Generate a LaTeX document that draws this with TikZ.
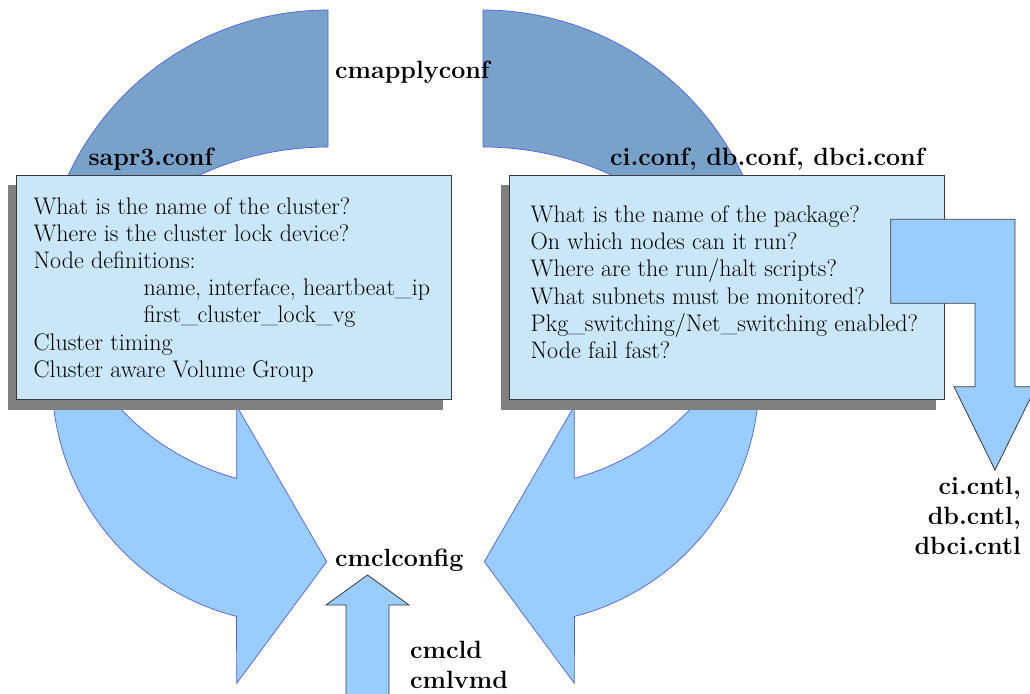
\documentclass[tikz,border=0pt]{standalone}
\begin{document}
\definecolor{topblue}{HTML}{78A2CA}
\definecolor{lowblue}{HTML}{99CCFF}
\definecolor{edgeblue}{HTML}{5060E0}
\definecolor{panelfill}{HTML}{C9E7F9}
\definecolor{darkedge}{HTML}{3A3A3A}
\definecolor{shadowgray}{HTML}{808080}
\begin{tikzpicture}[x=1pt,y=-1pt,
  ringtop/.style={fill=topblue, draw=edgeblue, line width=0.7pt, line join=round},
  ringlow/.style={fill=lowblue, draw=edgeblue, line width=0.7pt, line join=miter},
  blockarrow/.style={fill=lowblue, draw=darkedge, line width=0.8pt},
  panel/.style={fill=panelfill, draw=darkedge, line width=0.8pt},
  panelshadow/.style={fill=shadowgray},
  boxtext/.style={anchor=base west, inner sep=0pt, font=\fontsize{24}{27}\selectfont},
  cmdlabel/.style={anchor=base west, inner sep=0pt, font=\fontsize{25}{30}\selectfont\bfseries},
  cmdlabelr/.style={anchor=base east, inner sep=0pt, font=\fontsize{25}{30}\selectfont\bfseries}]
\useasboundingbox (0,0) rectangle (1030,693);

% upper half of the cycle: two arc segments
\filldraw[ringtop] (328,10)
  -- plot[domain=270:203, samples=60, variable=\t] ({328+287*cos(\t)},{297+287*sin(\t)})
  -- plot[domain=241.27:270, samples=60, variable=\t] ({328+308.7*cos(\t)},{455.7+308.7*sin(\t)})
  -- cycle;
\filldraw[ringtop] (483,10)
  -- plot[domain=-90:-23, samples=60, variable=\t] ({483+287*cos(\t)},{297+287*sin(\t)})
  -- plot[domain=-61.27:-90, samples=60, variable=\t] ({483+308.7*cos(\t)},{455.7+308.7*sin(\t)})
  -- cycle;

% lower half of the cycle: two curved arrows meeting at cmclconfig
\filldraw[ringlow] (53.3,404)
  -- plot[domain=174.14:104.3, samples=60, variable=\t] ({297+245*cos(\t)},{379+245*sin(\t)})
  -- (236.7,683.3) -- (326.7,561.7) -- (236.7,406) -- (236.7,478.3)
  -- plot[domain=105.05:138.27, samples=60, variable=\t] ({301+247.6*cos(\t)},{239.2+247.6*sin(\t)})
  -- cycle;
\filldraw[ringlow] (757.7,404)
  -- plot[domain=5.86:75.7, samples=60, variable=\t] ({514+245*cos(\t)},{379+245*sin(\t)})
  -- (574.3,683.3) -- (484.3,561.7) -- (574.3,406) -- (574.3,478.3)
  -- plot[domain=74.95:41.73, samples=60, variable=\t] ({510+247.6*cos(\t)},{239.2+247.6*sin(\t)})
  -- cycle;

% upward arrow into cmclconfig
\filldraw[blockarrow] (346,700) -- (346,605) -- (326,605) -- (367.5,575)
  -- (409,605) -- (389,605) -- (389,700) -- cycle;

% panels with drop shadows
\fill[panelshadow] (7.5,185) rectangle (442.5,409.5);
\filldraw[panel] (16.7,175) rectangle (451.7,399.5);
\fill[panelshadow] (500.5,185) rectangle (935.5,409.5);
\filldraw[panel] (509.5,175) rectangle (944.5,399.5);

% cluster configuration questions
\node[boxtext] (l1) at (33.3,214.0) {What is the name of the cluster?};
\node[boxtext] (l2) at (33.3,241.2) {Where is the cluster lock device?};
\node[boxtext] (l3) at (33.3,268.4) {Node definitions:};
\node[boxtext] (l4) at (143.3,295.6) {name, interface, heartbeat\_ip};
\node[boxtext] (l5) at (143.3,322.8) {first\_cluster\_lock\_vg};
\node[boxtext] (l6) at (33.3,350.0) {Cluster timing};
\node[boxtext] (l7) at (33.3,377.2) {Cluster aware Volume Group};

% package configuration questions
\node[boxtext] (r1) at (530.4,222.5) {What is the name of the package?};
\node[boxtext] (r2) at (530.4,249.7) {On which nodes can it run?};
\node[boxtext] (r3) at (530.4,276.9) {Where are the run/halt scripts?};
\node[boxtext] (r4) at (530.4,304.1) {What subnets must be monitored?};
\node[boxtext] (r5) at (530.4,331.3) {Pkg\_switching/Net\_switching enabled?};
\node[boxtext] (r6) at (530.4,358.5) {Node fail fast?};

% bent arrow towards the control scripts
\filldraw[blockarrow] (890.7,219.3) -- (1015,219.3) -- (1015,386.7) -- (1036,386.7)
  -- (995,470) -- (954,386.7) -- (975,386.7) -- (975,303.3) -- (890.7,303.3) -- cycle;

% command and file names
\node[cmdlabel] (apply) at (335,78.3) {cmapplyconf};
\node[cmdlabel] (sapr) at (88.3,165.5) {sapr3.conf};
\node[cmdlabel] (pkgconf) at (610,165.5) {ci.conf, db.conf, dbci.conf};
\node[cmdlabel] (clconfig) at (335,566.7) {cmclconfig};
\node[cmdlabel] (cmcld) at (410,658.3) {cmcld};
\node[cmdlabel] (cmlvmd) at (410,688.3) {cmlvmd};
\node[cmdlabelr] (cntl1) at (1021,494.5) {ci.cntl,};
\node[cmdlabelr] (cntl2) at (1021,524.5) {db.cntl,};
\node[cmdlabelr] (cntl3) at (1021,554.5) {dbci.cntl};
\end{tikzpicture}
\end{document}
